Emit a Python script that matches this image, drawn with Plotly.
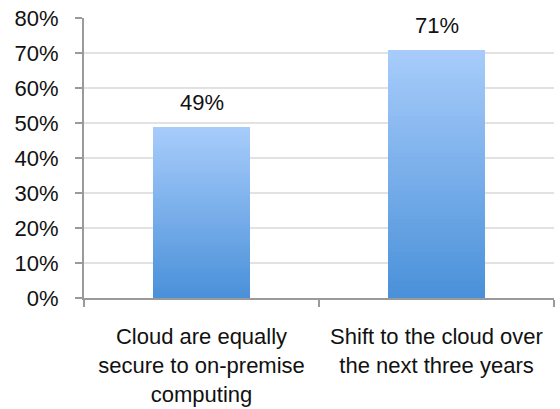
import plotly.graph_objects as go

# Survey results
categories = [
    "Cloud are equally<br>secure to on-premise<br>computing",
    "Shift to the cloud over<br>the next three years",
]
values = [0.49, 0.71]
y_ticks = [0.0, 0.1, 0.2, 0.3, 0.4, 0.5, 0.6, 0.7, 0.8]

FONT = "Arial, Liberation Sans, Helvetica, sans-serif"
TOP_RGB = (168, 205, 251)     # light blue at bar top
BOTTOM_RGB = (74, 144, 217)   # deeper blue at bar base
N_STEPS = 60                  # slices used to shade each bar vertically

fig = go.Figure()

# Each bar is built from thin stacked slices so it fades from dark to light
for k in range(N_STEPS):
    t = (k + 0.5) / N_STEPS
    r = round(BOTTOM_RGB[0] + (TOP_RGB[0] - BOTTOM_RGB[0]) * t)
    g = round(BOTTOM_RGB[1] + (TOP_RGB[1] - BOTTOM_RGB[1]) * t)
    b = round(BOTTOM_RGB[2] + (TOP_RGB[2] - BOTTOM_RGB[2]) * t)
    fig.add_trace(go.Bar(
        x=categories,
        y=[v / N_STEPS for v in values],
        marker=dict(color=f"rgb({r},{g},{b})", line=dict(width=0)),
        hoverinfo="skip",
        showlegend=False,
    ))

# Value labels above the bars
for c, v in zip(categories, values):
    fig.add_annotation(
        x=c, y=v, text=f"{v:.0%}", showarrow=False,
        yanchor="bottom", yshift=10,
        font=dict(family=FONT, size=22, color="#111111"),
    )

fig.update_layout(
    width=560, height=409,
    margin=dict(l=84, r=6, t=18, b=111),
    paper_bgcolor="white", plot_bgcolor="white",
    barmode="stack", bargap=0.59,
    font=dict(family=FONT, size=22, color="#111111"),
    showlegend=False,
)

fig.update_xaxes(
    type="category",
    automargin=False,
    showgrid=False,
    showline=True, linecolor="#9a9a9a", linewidth=2,
    ticks="outside", tickson="boundaries", ticklen=7,
    tickcolor="#9a9a9a", tickwidth=2,
    ticklabelstandoff=18,
    tickfont=dict(family=FONT, size=22, color="#111111"),
)

fig.update_yaxes(
    range=[0, 0.8],
    automargin=False,
    tickvals=y_ticks,
    tickformat=".0%",
    showgrid=True, gridcolor="#e2e2e2", gridwidth=2,
    showline=True, linecolor="#9a9a9a", linewidth=2,
    ticks="outside", ticklen=7, tickcolor="#9a9a9a", tickwidth=2,
    ticklabelstandoff=12,
    zeroline=False,
    tickfont=dict(family=FONT, size=22, color="#111111"),
)

fig.write_html("out.html")
